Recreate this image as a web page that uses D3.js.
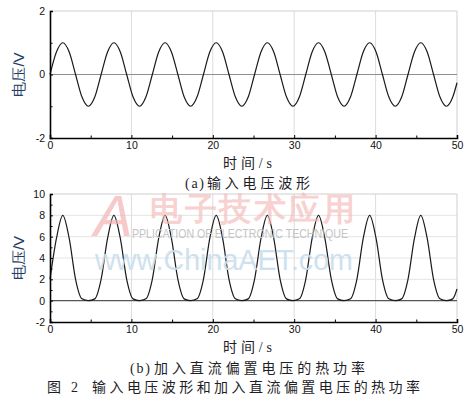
<!DOCTYPE html>
<html>
<head>
<meta charset="utf-8">
<script src="https://cdn.jsdelivr.net/npm/d3@7/dist/d3.min.js"></script>
<style>
  body { margin: 0; background: #fff; }
  svg text { font-family: "Liberation Sans", Arial, sans-serif; }
  .cap { font-family: "Liberation Serif", "Noto Sans CJK SC", serif; fill: #1e1e28; }
</style>
</head>
<body>
<script>
// sample times (s), every quarter-period-ish
var times = [0, 0.79, 1.57, 2.36, 3.14, 3.93, 4.71, 5.50,
  6.28, 7.07, 7.85, 8.64, 9.42, 10.21, 11.00, 11.78,
  12.57, 13.35, 14.14, 14.92, 15.71, 16.49, 17.28, 18.06,
  18.85, 19.63, 20.42, 21.21, 21.99, 22.78, 23.56, 24.35,
  25.13, 25.92, 26.70, 27.49, 28.27, 29.06, 29.85, 30.63,
  31.42, 32.20, 32.99, 33.77, 34.56, 35.34, 36.13, 36.91,
  37.70, 38.48, 39.27, 40.06, 40.84, 41.63, 42.41, 43.20,
  43.98, 44.77, 45.55, 46.34, 47.12, 47.91, 48.69, 49.48, 50];

// (a) input voltage, V
var inputVoltage = [0, 0.71, 1, 0.71, 0, -0.71, -1, -0.71,
  0, 0.71, 1, 0.71, 0, -0.71, -1, -0.71,
  0, 0.71, 1, 0.71, 0, -0.71, -1, -0.71,
  0, 0.71, 1, 0.71, 0, -0.71, -1, -0.71,
  0, 0.71, 1, 0.71, 0, -0.71, -1, -0.71,
  0, 0.71, 1, 0.71, 0, -0.71, -1, -0.71,
  0, 0.71, 1, 0.71, 0, -0.71, -1, -0.71,
  0, 0.71, 1, 0.71, 0, -0.71, -1, -0.71, -0.26];

// (b) heat power with DC bias
var heatPower = [2, 5.83, 8, 5.83, 2, 0.17, 0, 0.17,
  2, 5.83, 8, 5.83, 2, 0.17, 0, 0.17,
  2, 5.83, 8, 5.83, 2, 0.17, 0, 0.17,
  2, 5.83, 8, 5.83, 2, 0.17, 0, 0.17,
  2, 5.83, 8, 5.83, 2, 0.17, 0, 0.17,
  2, 5.83, 8, 5.83, 2, 0.17, 0, 0.17,
  2, 5.83, 8, 5.83, 2, 0.17, 0, 0.17,
  2, 5.83, 8, 5.83, 2, 0.17, 0, 0.17, 1.09];

var xTicks = [0, 10, 20, 30, 40, 50];
var xMinor = [5, 15, 25, 35, 45];
var yTicksA = [-2, 0, 2];
var yMinorA = [-1, 1];
var yGridA = [];
var yTicksB = [-2, 0, 2, 4, 6, 8, 10];
var yMinorB = [-1, 1, 3, 5, 7, 9];
var yGridB = [2, 4, 6, 8];

var yLabel = "电压/V";
var xLabel = "时间/s";
var capA = ["(a)", "输入电压波形"];
var capB = ["(b)", "加入直流偏置电压的热功率"];
var figCap = ["图 2", "输入电压波形和加入直流偏置电压的热功率"];

var W = 473, H = 408;
var svg = d3.select(document.body).append("svg")
  .attr("width", W).attr("height", H);

// prefix drawn tight, the CJK part spread to a given width
function caption(parts, x, x2, len, y, size, spread) {
  var t = svg.append("text").attr("class", "cap")
    .attr("x", x).attr("y", y).attr("font-size", size)
    .text(parts[0]);
  if (spread) t.attr("textLength", spread).attr("lengthAdjust", "spacing");
  svg.append("text").attr("class", "cap")
    .attr("x", x2).attr("y", y).attr("font-size", size)
    .attr("textLength", len).attr("lengthAdjust", "spacing")
    .text(parts[1]);
}

function drawPanel(p) {
  var x = d3.scaleLinear().domain([0, 50]).range([50, 457]);
  var y = d3.scaleLinear().domain(p.yDomain).range([p.bottom, p.top]);
  var g = svg.append("g");

  // grid
  g.selectAll(".vg").data(xTicks.slice(1, -1)).enter().append("line")
    .attr("x1", x).attr("x2", x).attr("y1", p.top).attr("y2", p.bottom)
    .attr("stroke", "#dcdcdc").attr("stroke-width", 1);
  g.selectAll(".hg").data(p.yGrid).enter().append("line")
    .attr("x1", 50).attr("x2", 457).attr("y1", y).attr("y2", y)
    .attr("stroke", "#e4e4e4").attr("stroke-width", 1);
  // frame top / right
  g.append("line").attr("x1", 50).attr("x2", 457).attr("y1", p.top).attr("y2", p.top)
    .attr("stroke", "#cfcfcf");
  g.append("line").attr("x1", 457).attr("x2", 457).attr("y1", p.top).attr("y2", p.bottom)
    .attr("stroke", "#cfcfcf");
  // zero line
  g.append("line").attr("x1", 50).attr("x2", 457).attr("y1", y(0)).attr("y2", y(0))
    .attr("stroke", p.zeroColor).attr("stroke-width", 1.2);

  p.watermark && p.watermark();

  // curve
  var line = d3.line()
    .x(function(d, i) { return x(times[i]); })
    .y(function(d) { return y(d); })
    .curve(d3.curveMonotoneX);
  g.append("path").datum(p.values)
    .attr("d", line)
    .attr("fill", "none").attr("stroke", "#1a1a1a").attr("stroke-width", 1.2);

  // axes
  var ax = g.append("g").attr("transform", "translate(0," + p.bottom + ")")
    .call(d3.axisBottom(x).tickValues(xTicks).tickSize(-3).tickPadding(4)
      .tickFormat(function(d) { return String(d); }));
  g.append("g").attr("transform", "translate(0," + p.bottom + ")")
    .call(d3.axisBottom(x).tickValues(xMinor).tickSize(-2.5).tickFormat(""))
    .select(".domain").remove();
  var ay = g.append("g").attr("transform", "translate(50,0)")
    .call(d3.axisLeft(y).tickValues(p.yTicks).tickSize(-3).tickPadding(5)
      .tickFormat(function(d) { return String(d); }));
  g.append("g").attr("transform", "translate(50,0)")
    .call(d3.axisLeft(y).tickValues(p.yMinor).tickSize(-2.5).tickFormat(""))
    .select(".domain").remove();

  [ax, ay].forEach(function(a) {
    a.select(".domain").attr("stroke", "#000").attr("stroke-width", 1.6);
    a.selectAll("text").attr("font-size", 10.5).attr("fill", "#111")
      .attr("font-family", "Liberation Sans, Arial, sans-serif");
  });
  g.selectAll(".tick line").attr("stroke", "#000");

  // y label
  svg.append("text")
    .attr("transform", "translate(24," + ((p.top + p.bottom) / 2) + ") rotate(-90)")
    .attr("text-anchor", "middle")
    .attr("font-family", "Noto Sans CJK SC, sans-serif")
    .attr("font-size", 15).attr("fill", "#233b66")
    .text(yLabel);
}

function watermark() {
  var wm = svg.append("g").attr("pointer-events", "none");
  wm.append("text").attr("x", 94).attr("y", 236)
    .attr("font-family", "Liberation Serif, serif").attr("font-style", "italic")
    .attr("font-size", 58).attr("fill", "#f3b4b4").attr("opacity", 0.7)
    .text("A");
  wm.append("text").attr("x", 150).attr("y", 220)
    .attr("font-family", "Noto Sans CJK SC, sans-serif").attr("font-weight", "bold")
    .attr("font-size", 32).attr("fill", "#f5b9b9").attr("opacity", 0.65)
    .attr("textLength", 205).attr("lengthAdjust", "spacing")
    .text("电子技术应用");
  wm.append("text").attr("x", 132).attr("y", 238)
    .attr("font-family", "Liberation Sans, Arial, sans-serif")
    .attr("font-size", 13).attr("fill", "#c4c4c4")
    .attr("textLength", 216).attr("lengthAdjust", "spacingAndGlyphs")
    .text("PPLICATION OF ELECTRONIC TECHNIQUE");
  wm.append("text").attr("x", 95).attr("y", 270)
    .attr("font-family", "Liberation Sans, Arial, sans-serif")
    .attr("font-size", 30).attr("fill", "#c9deee").attr("opacity", 0.9)
    .attr("textLength", 258).attr("lengthAdjust", "spacingAndGlyphs")
    .text("www.ChinaAET.com");
}

drawPanel({ top: 11, bottom: 138, yDomain: [-2, 2], values: inputVoltage,
  yTicks: yTicksA, yMinor: yMinorA, yGrid: yGridA, zeroColor: "#8f8f8f" });
drawPanel({ top: 194, bottom: 322, yDomain: [-2, 10], values: heatPower,
  yTicks: yTicksB, yMinor: yMinorB, yGrid: yGridB, zeroColor: "#555",
  watermark: watermark });

svg.append("text").attr("class", "cap").attr("x", 223).attr("y", 168)
  .attr("font-size", 14).attr("textLength", 49).attr("lengthAdjust", "spacing").text(xLabel);
svg.append("text").attr("class", "cap").attr("x", 223).attr("y", 352)
  .attr("font-size", 14).attr("textLength", 49).attr("lengthAdjust", "spacing").text(xLabel);
caption(capA, 185, 207, 103, 188, 14, 19);
caption(capB, 130, 154, 211, 373, 14, 20);
caption(figCap, 47, 92, 328, 392, 14, 31);
</script>
</body>
</html>
